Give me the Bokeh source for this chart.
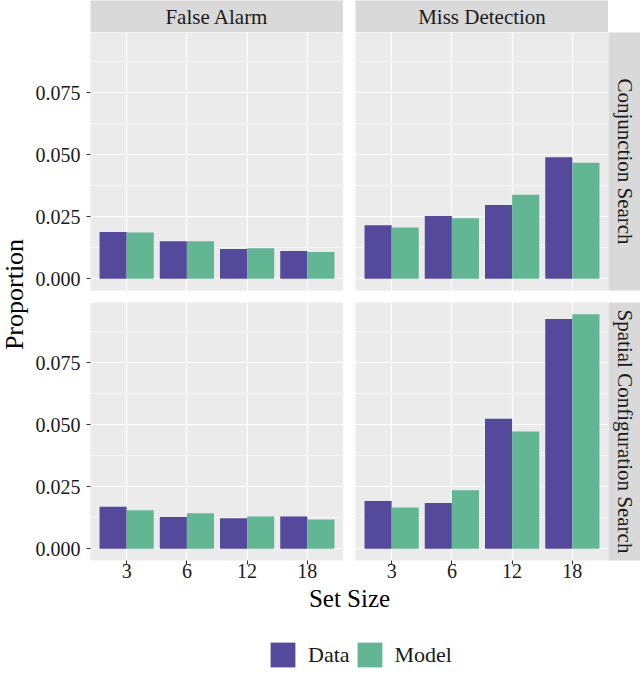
import math
from bokeh.plotting import figure
from bokeh.models import (FactorRange, Range1d, FixedTicker, PrintfTickFormatter,
                          Label, Legend, LegendItem, ColumnDataSource, Spacer)
from bokeh.transform import dodge
from bokeh.layouts import row, column
from bokeh.embed import file_html
from bokeh.resources import INLINE

# ---------------- data ----------------
set_sizes = ["3", "6", "12", "18"]
col_titles = ["False Alarm", "Miss Detection"]
row_titles = ["Conjunction Search", "Spatial Configuration Search"]
series_names = ["Data", "Model"]
y_ticks = [0.0, 0.025, 0.05, 0.075]
y_minor = [0.0125, 0.0375, 0.0625, 0.0875]

conj_fa_data = [0.0188, 0.0151, 0.0120, 0.0112]
conj_fa_model = [0.0186, 0.0151, 0.0123, 0.0108]
conj_md_data = [0.0216, 0.0253, 0.0297, 0.0490]
conj_md_model = [0.0207, 0.0244, 0.0339, 0.0467]
spat_fa_data = [0.0169, 0.0128, 0.0123, 0.0130]
spat_fa_model = [0.0155, 0.0143, 0.0130, 0.0118]
spat_md_data = [0.0192, 0.0184, 0.0524, 0.0926]
spat_md_model = [0.0166, 0.0236, 0.0473, 0.0945]

# ---------------- style ----------------
FONT = "Liberation Serif"
PURPLE = "#54499A"
GREEN = "#63B694"
PANEL_BG = "#EBEBEB"
STRIP_BG = "#D9D9D9"
TXT = "#1A1A1A"

all_vals = (conj_fa_data + conj_fa_model + conj_md_data + conj_md_model +
            spat_fa_data + spat_fa_model + spat_md_data + spat_md_model)
ymax = max(all_vals)
y_lo, y_hi = -0.05 * ymax, 1.05 * ymax


def base_fig(width, height, left=0, right=0, top=0, bottom=0, **kw):
    p = figure(width=width, height=height, output_backend="svg", toolbar_location=None,
               title=None, min_border_left=left, min_border_right=right,
               min_border_top=top, min_border_bottom=bottom, **kw)
    p.outline_line_color = None
    p.border_fill_color = "white"
    return p


def panel(data, model, width, height, left, bottom, show_x, show_y):
    src = ColumnDataSource(dict(size=set_sizes, data=data, model=model))
    xr = FactorRange(factors=set_sizes, range_padding=0.1, range_padding_units="absolute")
    p = base_fig(width, height, left=left, bottom=bottom,
                 x_range=xr, y_range=Range1d(y_lo, y_hi))
    p.background_fill_color = PANEL_BG
    p.vbar(x=dodge("size", -0.225, range=xr), top="data", width=0.45, source=src,
           fill_color=PURPLE, line_color=None)
    p.vbar(x=dodge("size", 0.225, range=xr), top="model", width=0.45, source=src,
           fill_color=GREEN, line_color=None)

    p.yaxis.ticker = FixedTicker(ticks=y_ticks, minor_ticks=y_minor)
    p.yaxis.formatter = PrintfTickFormatter(format="%.3f")
    p.ygrid.grid_line_color = "white"
    p.ygrid.grid_line_width = 1.2
    p.ygrid.minor_grid_line_color = "white"
    p.ygrid.minor_grid_line_width = 0.6
    p.xgrid.grid_line_color = "white"
    p.xgrid.grid_line_width = 1.2

    for ax in (p.xaxis[0], p.yaxis[0]):
        ax.axis_line_color = None
        ax.major_tick_line_color = "#333333"
        ax.major_tick_out = 4
        ax.major_tick_in = 0
        ax.minor_tick_out = 0
        ax.minor_tick_in = 0
        ax.major_label_text_font = FONT
        ax.major_label_text_font_size = "20px"
        ax.major_label_text_color = TXT
    p.yaxis.major_label_standoff = 6
    p.xaxis.major_label_standoff = -1
    p.xaxis.visible = show_x
    p.yaxis.visible = show_y
    return p


def strip(text, width, height, left=0, bottom=0, angle=0.0):
    p = base_fig(width, height, left=left, bottom=bottom,
                 x_range=Range1d(0, 1), y_range=Range1d(0, 1),
                 x_axis_type=None, y_axis_type=None)
    p.background_fill_color = STRIP_BG
    p.add_layout(Label(x=0.5, y=0.5, text=text, angle=angle, text_align="center",
                       text_baseline="middle", text_font=FONT, text_font_size="21px",
                       text_color=TXT))
    return p


W_Y = 32
W_LEFT, W_RIGHT, W_STRIP = 311, 265, 32
B_LEFT = W_LEFT - 253
H_STRIP, H_TOP, H_BOT, H_FOOT = 32, 270, 283, 93
W_MAIN = W_LEFT + W_RIGHT + W_STRIP
H_ALL = H_STRIP + H_TOP + H_BOT + H_FOOT

strip_fa = strip(col_titles[0], W_LEFT, H_STRIP, left=B_LEFT)
strip_md = strip(col_titles[1], W_RIGHT, H_STRIP, left=12)
corner = Spacer(width=W_STRIP, height=H_STRIP)

top_left = panel(conj_fa_data, conj_fa_model, W_LEFT, H_TOP, B_LEFT, 12, False, True)
top_right = panel(conj_md_data, conj_md_model, W_RIGHT, H_TOP, 12, 12, False, False)
strip_conj = strip(row_titles[0], W_STRIP, H_TOP, bottom=12, angle=-math.pi / 2)

bot_left = panel(spat_fa_data, spat_fa_model, W_LEFT, H_BOT, B_LEFT, 25, True, True)
bot_right = panel(spat_md_data, spat_md_model, W_RIGHT, H_BOT, 12, 25, True, False)
strip_spat = strip(row_titles[1], W_STRIP, H_BOT, bottom=25, angle=-math.pi / 2)

# footer: x-axis title and legend
foot = base_fig(W_MAIN, H_FOOT, x_range=Range1d(0, W_MAIN), y_range=Range1d(0, H_FOOT),
                x_axis_type=None, y_axis_type=None)
foot.background_fill_color = "white"
foot.xgrid.visible = False
foot.ygrid.visible = False
foot.add_layout(Label(x=349 - W_Y, y=H_FOOT - 13, text="Set Size", text_align="center",
                      text_baseline="middle", text_font=FONT, text_font_size="25px",
                      text_color="black"))
# legend key renderers: zero-height bars outside the visible range (keys only)
r_data = foot.vbar(x=[-100], top=[0], bottom=[0], width=1, fill_color=PURPLE, line_color=None)
r_model = foot.vbar(x=[-100], top=[0], bottom=[0], width=1, fill_color=GREEN, line_color=None)
legend = Legend(items=[LegendItem(label=series_names[0], renderers=[r_data]),
                       LegendItem(label=series_names[1], renderers=[r_model])],
                orientation="horizontal", location=(267 - W_Y, 8), padding=0, margin=0,
                spacing=4, label_standoff=10, glyph_width=31, glyph_height=31,
                label_height=31, border_line_color=None, background_fill_alpha=0,
                label_text_font=FONT, label_text_font_size="22px", label_text_color=TXT)
foot.add_layout(legend)

# y-axis title
ylab = base_fig(W_Y, H_ALL, x_range=Range1d(0, W_Y), y_range=Range1d(0, H_ALL),
                x_axis_type=None, y_axis_type=None)
ylab.background_fill_color = "white"
ylab.xgrid.visible = False
ylab.ygrid.visible = False
ylab.add_layout(Label(x=14, y=H_ALL - 294, text="Proportion", angle=math.pi / 2,
                      text_align="center", text_baseline="middle", text_font=FONT,
                      text_font_size="26px", text_color="black"))

main = column(row(strip_fa, strip_md, corner),
              row(top_left, top_right, strip_conj),
              row(bot_left, bot_right, strip_spat),
              foot)
layout = row(ylab, main)

open("out.html", "w").write(file_html(layout, INLINE))
